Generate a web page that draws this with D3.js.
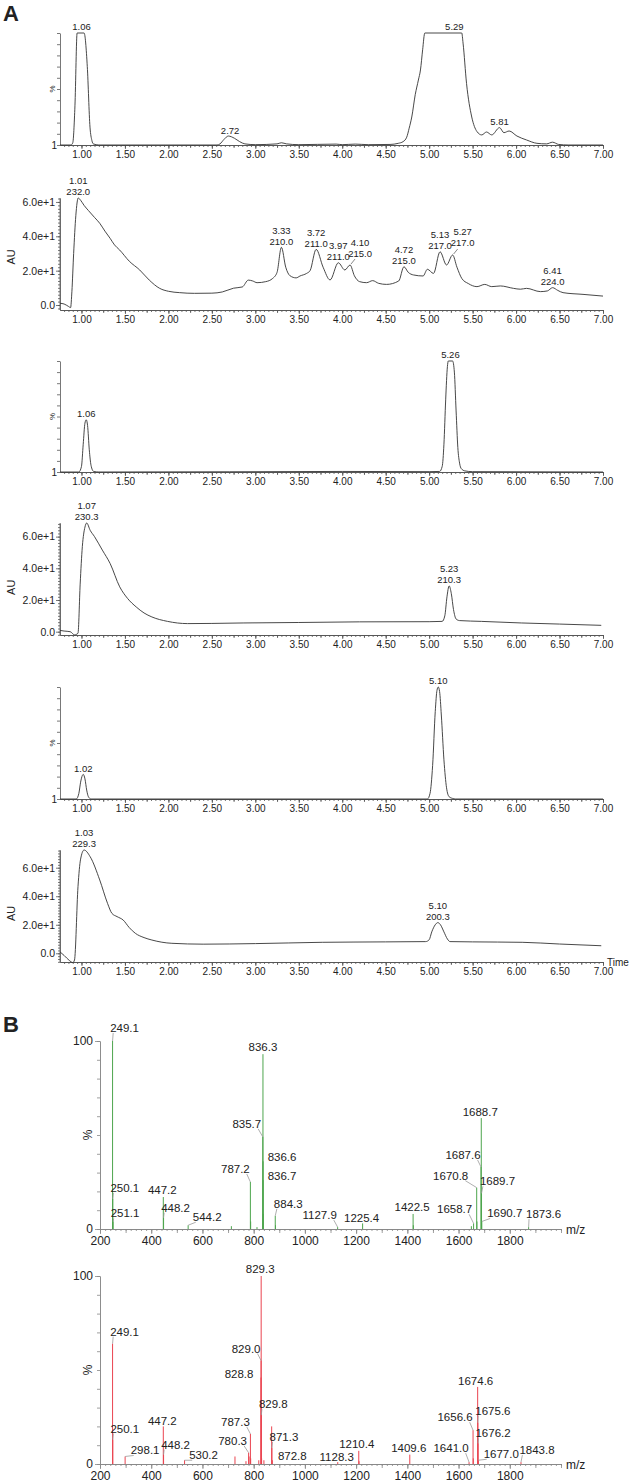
<!DOCTYPE html>
<html>
<head>
<meta charset="utf-8">
<script src="https://cdn.jsdelivr.net/npm/d3@7"></script>
<style>
body { margin: 0; background: #fff; }
svg text { font-family: "Liberation Sans", Arial, sans-serif; fill: #222; }
.narrow { font-family: "Liberation Sans Narrow", "Arial Narrow", "Liberation Sans", sans-serif; }
</style>
</head>
<body>
<div id="chart"></div>
<script>
// ---- panel A : chromatograms, [time (min), response] ----
var tic1 = [[0.753,0],[0.88,0],[0.90,2],[0.925,35],[0.95,100],[1.03,100],[1.067,70],[1.098,16],[1.12,4],[1.136,1],[1.2,0],
  [2.56,0],[2.594,1],[2.64,5],[2.69,8],[2.76,6],[2.82,3],[2.88,1],[3.0,0.3],[3.25,1],[3.30,2],[3.36,1],[3.5,0.3],
  [3.93,0.8],[4.0,0.3],[4.15,0.8],[4.3,0.3],[4.55,0.5],[4.645,1.5],[4.70,3],[4.742,7],[4.77,15],[4.80,25],[4.84,45],
  [4.876,58],[4.90,67],[4.925,85],[4.95,100],[5.375,100],[5.39,91],[5.43,55],[5.49,25],[5.55,12],[5.605,9],[5.66,11.6],
  [5.72,9],[5.81,15.5],[5.86,11],[5.92,12.5],[6.01,8],[6.12,4.5],[6.24,1.5],[6.35,1],[6.42,2.5],[6.49,0.5],[6.6,0],[7.0,0]];
var tic1Labels = [[1.0,"1.06"],[2.71,"2.72"],[5.29,"5.29"],[5.81,"5.81"]];

var uv1 = [[0.753,1],[0.80,0.6],[0.85,-0.8],[0.875,-1.5],[0.89,8],[0.91,30],[0.935,52],[0.963,62.3],[0.99,61],[1.03,58],
  [1.08,55],[1.15,51],[1.21,47.6],[1.27,43],[1.33,38.8],[1.38,35],[1.44,32],[1.55,25.5],[1.67,20.4],[1.78,14.5],[1.90,9.7],
  [2.0,8],[2.13,7.2],[2.3,6.8],[2.5,6.9],[2.62,7.6],[2.75,9.8],[2.85,10.5],[2.92,14.5],[2.97,14],[3.02,13],[3.12,13.6],
  [3.2,15.5],[3.25,19],[3.30,33.6],[3.35,22],[3.40,17],[3.47,15.8],[3.514,16.9],[3.59,18.4],[3.63,20],[3.70,32.4],
  [3.78,22],[3.86,14.6],[3.955,24.6],[4.03,20.4],[4.09,23.3],[4.14,17],[4.20,13.6],[4.28,13],[4.35,14.2],[4.42,12.6],
  [4.51,12],[4.65,14],[4.71,22.3],[4.76,19],[4.82,17.5],[4.93,16.9],[4.98,20.8],[5.05,18.4],[5.125,31],[5.20,23.3],
  [5.27,29.1],[5.32,22],[5.375,15.5],[5.45,12.5],[5.55,10.7],[5.64,12],[5.72,10.7],[5.82,11.1],[5.97,9.7],[6.05,9.2],
  [6.12,9.7],[6.28,7.8],[6.36,8.2],[6.42,10.1],[6.48,8.5],[6.54,7.2],[6.77,6.2],[7.0,5.2]];
var uv1Labels = [[0.963,"1.01","232.0"],[3.30,"3.33","210.0"],[3.70,"3.72","211.0"],[3.955,"3.97","211.0"],
  [4.09,"4.10","215.0"],[4.71,"4.72","215.0"],[5.125,"5.13","217.0"],[5.27,"5.27","217.0"],[6.42,"6.41","224.0"]];

var tic2 = [[0.753,0],[0.97,0],[1.00,5],[1.02,25],[1.04,44],[1.055,47],[1.07,42],[1.09,20],[1.11,6],[1.14,0.5],[1.2,0],
  [2.7,0.2],[4.0,0.5],[5.0,0.3],[5.12,0.5],[5.15,5],[5.17,25],[5.19,65],[5.21,95],[5.22,100],[5.27,100],[5.29,90],
  [5.31,55],[5.33,22],[5.35,8],[5.37,3],[5.41,1],[5.5,0.3],[7.0,0]];
var tic2Labels = [[1.055,"1.06"],[5.245,"5.26"]];

var uv2 = [[0.753,0.8],[0.80,0.4],[0.87,0],[0.92,-2],[0.96,-1],[0.985,30],[1.01,53.7],[1.04,66],[1.06,68.6],[1.10,64],
  [1.15,60],[1.24,51.5],[1.33,43],[1.44,28.3],[1.53,21],[1.63,15.6],[1.72,11.8],[1.81,9.3],[1.99,6.5],[2.22,5.1],
  [2.5,5.2],[2.86,5.5],[3.5,5.8],[4.2,6.2],[5.0,6.3],[5.15,6.5],[5.18,10],[5.205,22],[5.23,28.9],[5.255,24],[5.28,14],
  [5.31,8],[5.35,7],[5.6,6.5],[6.06,5.5],[6.5,4.8],[6.98,4.0]];
var uv2Labels = [[1.06,"1.07","230.3"],[5.23,"5.23","210.3"]];

var tic3 = [[0.753,0],[0.94,0],[0.97,5],[0.99,15],[1.01,21],[1.02,22],[1.04,18],[1.06,8],[1.08,2],[1.11,0],[4.98,0],
  [5.01,5],[5.04,30],[5.07,78],[5.09,97],[5.105,100],[5.12,96],[5.14,75],[5.17,35],[5.20,10],[5.23,2],[5.27,0.5],
  [5.3,0],[7.0,0]];
var tic3Labels = [[1.02,"1.02"],[5.105,"5.10"]];

var uv3 = [[0.753,1],[0.80,-1.5],[0.86,-5],[0.90,-6.5],[0.92,-4.7],[0.96,46.7],[0.99,66],[1.03,72.4],[1.10,67.7],
  [1.21,51.4],[1.30,35],[1.35,28],[1.41,25.7],[1.48,23.3],[1.55,18],[1.62,14],[1.72,11],[1.81,9.3],[2.04,7],[2.4,6.4],
  [3.0,6.8],[3.77,7.7],[4.5,8],[4.96,8.2],[5.0,9.5],[5.03,15],[5.07,20],[5.10,21.5],[5.13,20],[5.17,15],[5.21,10],
  [5.24,8.2],[5.5,8],[6.07,7.7],[6.5,6.5],[6.98,5.3]];
var uv3Labels = [[1.03,"1.03","229.3"],[5.10,"5.10","200.3"]];

var timeTicks = [1.00, 1.50, 2.00, 2.50, 3.00, 3.50, 4.00, 4.50, 5.00, 5.50, 6.00, 6.50, 7.00];
var auTicks = [0, 20, 40, 60];

// ---- panel B : mass spectra, [m/z, relative intensity %] ----
var spec1Peaks = [[249.1,100],[250.1,16],[251.1,4],[447.2,17],[448.2,6],[544.2,2],[713,1.5],[787.2,25],[788.2,4],
  [813,1],[835.7,49],[836.3,93],[836.6,36],[836.7,26],[837.3,8],[884.3,7],[885.3,2],[1127.9,1],[1225.4,3],[1422.5,8],
  [1423.5,2],[1650,1.5],[1658.7,3],[1670.8,22],[1671.8,4],[1687.6,33],[1688.7,59],[1689.7,19],[1690.7,4],[1873.6,1]];
var spec1Labels = ["249.1","250.1","251.1","447.2","448.2","544.2","787.2","835.7","836.3","836.6","836.7","884.3",
  "1127.9","1225.4","1422.5","1658.7","1670.8","1687.6","1688.7","1689.7","1690.7","1873.6"];

var spec2Peaks = [[249.1,64],[250.1,13],[298.1,4],[447.2,20],[448.2,5],[530.2,2],[727,4],[770,1.5],[780.3,6],[782,4],
  [787.3,16],[788.3,3],[820,2],[828.8,46],[829.0,55],[829.3,100],[829.8,26],[831,3],[840,2],[870.3,20],[871.3,8.5],
  [872.8,2],[1128.3,1],[1210.4,7],[1211.4,1.5],[1409.6,5],[1641.0,1],[1656.6,18],[1657.6,3],[1674.6,41],[1675.6,22],
  [1676.2,11],[1677.0,2],[1843.8,1]];
var spec2Labels = ["249.1","250.1","298.1","447.2","448.2","530.2","780.3","787.3","828.8","829.0","829.3","829.8",
  "871.3","872.8","1128.3","1210.4","1409.6","1641.0","1656.6","1674.6","1675.6","1676.2","1677.0","1843.8"];

var mzTicks = [200, 400, 600, 800, 1000, 1200, 1400, 1600, 1800];

// label placement (px offset of label centre from the peak top)
var spec1Offsets = {"249.1":[12,-13],"250.1":[12,-11],"251.1":[12,-8],"447.2":[-1,-7],"448.2":[12,-10],"544.2":[19,-8],
  "787.2":[-15,-13],"835.7":[-16,-13],"836.3":[0,-7],"836.6":[19,-4],"836.7":[19,-4],"884.3":[13,-12],"1127.9":[-18,-12],
  "1225.4":[-1,-5],"1422.5":[-1,-7],"1658.7":[-19,-14],"1670.8":[-26,-12],"1687.6":[-18,-12],"1688.7":[-1,-6],
  "1689.7":[16,-12],"1690.7":[23,-8],"1873.6":[15,-13]};
var spec2Offsets = {"829.3":[-1,-7],"249.1":[12,-12],"829.0":[-15,-12],"828.8":[-22,-4],"829.8":[12,-11],"250.1":[12,-11],
  "447.2":[-1,-5],"448.2":[12,-10],"298.1":[20,-6],"530.2":[19,-5],"787.3":[-15,-12],"780.3":[-16,-12],"871.3":[12,-11],
  "872.8":[20,-4],"1128.3":[-1,-5],"1210.4":[-2,-7],"1409.6":[-1,-7],"1641.0":[-18,-14],"1656.6":[-18,-13],
  "1674.6":[-2,-6],"1675.6":[15,-12],"1676.2":[15,-10],"1677.0":[23,-6],"1843.8":[16,-12]};
var chromShift = {"4.10":[10,-5],"5.27":[10,-6]};

var svg = d3.select("#chart").append("svg")
    .attr("width", 630)
    .attr("height", 1484);

svg.append("text").attr("x", 3).attr("y", 21).attr("font-size", 22).attr("font-weight", "bold").text("A");
svg.append("text").attr("x", 3).attr("y", 1032).attr("font-size", 22).attr("font-weight", "bold").text("B");

var x = d3.scaleLinear().domain([0.753, 7]).range([60, 603]);

var panels = [
  {trace: tic1, labels: tic1Labels, kind: "pct", top: 33, base: 145, lo: 0, hi: 100},
  {trace: uv1, labels: uv1Labels, kind: "au", top: 198, base: 310, lo: -2.9, hi: 62.3},
  {trace: tic2, labels: tic2Labels, kind: "pct", top: 361, base: 472, lo: 0, hi: 100},
  {trace: uv2, labels: uv2Labels, kind: "au", top: 523, base: 635, lo: -2.1, hi: 68.6},
  {trace: tic3, labels: tic3Labels, kind: "pct", top: 687, base: 799, lo: 0, hi: 100},
  {trace: uv3, labels: uv3Labels, kind: "au", top: 850, base: 962, lo: -6.1, hi: 72.4}
];

function interp(tr, t) {
  for (var i = 1; i < tr.length; i++) {
    if (tr[i][0] >= t) {
      var a = tr[i-1], b = tr[i];
      return a[1] + (b[1]-a[1]) * (t - a[0]) / (b[0] - a[0]);
    }
  }
  return tr[tr.length-1][1];
}

function styleAxis(g) {
  g.selectAll("path, line").attr("stroke", "#555").attr("stroke-width", 0.8);
  g.attr("font-family", null).attr("font-size", null);
}

panels.forEach(function(p, i) {
  var y = d3.scaleLinear().domain([p.lo, p.hi]).range([p.base, p.top]);
  var g = svg.append("g");

  // x axis
  var minor = d3.range(16, 141).map(k => k / 20);
  g.append("g").attr("transform", `translate(0,${p.base})`)
    .call(d3.axisBottom(x).tickValues(minor).tickSize(2).tickSizeOuter(0).tickFormat(""))
    .call(styleAxis);
  g.append("g").attr("transform", `translate(0,${p.base})`)
    .call(d3.axisBottom(x).tickValues(d3.range(4, 29).map(k => k / 4)).tickSize(3).tickSizeOuter(0).tickFormat(""))
    .call(styleAxis);
  var xa = g.append("g").attr("transform", `translate(0,${p.base})`)
    .call(d3.axisBottom(x).tickValues(timeTicks).tickSize(4).tickSizeOuter(0).tickPadding(2).tickFormat(d3.format(".2f")))
    .call(styleAxis);
  xa.selectAll("text").attr("class", "narrow").attr("font-size", 10).attr("fill", "#222");

  // y axis
  if (p.kind == "pct") {
    g.append("g").attr("transform", "translate(60,0)")
      .call(d3.axisLeft(y).tickValues(d3.range(0, 101, 10)).tickSize(3).tickSizeOuter(0).tickFormat(""))
      .call(styleAxis);
    g.append("text").attr("class", "narrow").attr("x", 57).attr("y", p.base + 3.5)
      .attr("text-anchor", "end").attr("font-size", 10).text("1");
    g.append("text").attr("font-size", 8)
      .attr("transform", `translate(${55},${(p.top + p.base) / 2}) rotate(-90)`)
      .attr("text-anchor", "middle").text("%");
  } else {
    var yMinor = d3.range(Math.ceil(p.lo / 2) * 2, p.hi, 2);
    g.append("g").attr("transform", "translate(60,0)")
      .call(d3.axisLeft(y).tickValues(yMinor).tickSize(2).tickSizeOuter(0).tickFormat(""))
      .call(styleAxis);
    var ya = g.append("g").attr("transform", "translate(60,0)")
      .call(d3.axisLeft(y).tickValues(auTicks).tickSize(4).tickSizeOuter(0).tickPadding(1)
        .tickFormat(d => d == 0 ? "0.0" : (d / 10).toFixed(1) + "e+1"))
      .call(styleAxis);
    ya.select(".domain").attr("d", `M0,${p.base}V${p.top}`);
    ya.selectAll("text").attr("class", "narrow").attr("font-size", 10.5).attr("fill", "#222");
    g.append("text").attr("font-size", 11)
      .attr("transform", `translate(${15},${y(28)}) rotate(-90)`)
      .attr("text-anchor", "middle").text("AU");
  }

  // trace
  g.append("path").datum(p.trace)
    .attr("fill", "none").attr("stroke", "#333").attr("stroke-width", 0.9)
    .attr("d", d3.line().x(d => x(d[0])).y(d => y(d[1])).curve(d3.curveMonotoneX));

  // peak labels
  p.labels.forEach(function(l) {
    var apex = y(interp(p.trace, l[0]));
    var sh = chromShift[l[1]] || [0, 0];
    var lx = x(l[0]) + sh[0];
    var lines = l.slice(1);
    lines.forEach(function(s, k) {
      var cy = apex - 6 + sh[1] - (lines.length - 1 - k) * 11;
      g.append("text").attr("class", "narrow").attr("font-size", 9.5)
        .attr("x", lx).attr("y", cy + 3.3).attr("text-anchor", "middle").text(s);
    });
    if (sh[0]) {
      g.append("line").attr("x1", x(l[0]) + 1).attr("y1", apex - 1)
        .attr("x2", lx - 5).attr("y2", apex - 6)
        .attr("stroke", "#555").attr("stroke-width", 0.7);
    }
  });

  if (i == panels.length - 1) {
    g.append("text").attr("class", "narrow").attr("x", 607).attr("y", p.base + 3.5).attr("font-size", 10).text("Time");
  }
});

// ---- spectra ----
var mz = d3.scaleLinear().domain([200, 2000]).range([100, 561]);
var spectra = [
  {peaks: spec1Peaks, labels: spec1Labels, offsets: spec1Offsets, color: "#4da54d", top: 1041, base: 1229},
  {peaks: spec2Peaks, labels: spec2Labels, offsets: spec2Offsets, color: "#ea4450", top: 1276, base: 1464}
];

spectra.forEach(function(s) {
  var y = d3.scaleLinear().domain([0, 100]).range([s.base, s.top]);
  var g = svg.append("g");

  g.append("g").attr("transform", `translate(0,${s.base})`)
    .call(d3.axisBottom(mz).tickValues(d3.range(200, 2001, 20)).tickSize(2).tickSizeOuter(0).tickFormat(""))
    .call(styleAxis);
  g.append("g").attr("transform", `translate(0,${s.base})`)
    .call(d3.axisBottom(mz).tickValues(d3.range(200, 2001, 100)).tickSize(4).tickSizeOuter(0).tickFormat(""))
    .call(styleAxis);
  var xa = g.append("g").attr("transform", `translate(0,${s.base})`)
    .call(d3.axisBottom(mz).tickValues(mzTicks).tickSize(5).tickSizeOuter(0).tickPadding(2).tickFormat(d3.format("d")))
    .call(styleAxis);
  xa.selectAll("text").attr("font-size", 12).attr("fill", "#222");
  g.selectAll(".domain").attr("stroke", "#888");
  g.selectAll(".tick line").attr("stroke", "#888");

  var ya = g.append("g").attr("transform", "translate(100,0)")
    .call(d3.axisLeft(y).tickValues(d3.range(0, 101, 10)).tickSize(3).tickSizeOuter(0).tickFormat(""))
    .call(styleAxis);
  ya.selectAll("path, line").attr("stroke", "#888");
  var yl = g.append("g").attr("transform", "translate(100,0)")
    .call(d3.axisLeft(y).tickValues([0, 100]).tickSize(5).tickSizeOuter(0).tickPadding(2))
    .call(styleAxis);
  yl.selectAll("path, line").attr("stroke", "#888");
  yl.selectAll("text").attr("font-size", 12).attr("fill", "#222");

  g.append("text").attr("x", 566).attr("y", s.base + 5).attr("font-size", 12).text("m/z");
  g.append("text").attr("font-size", 12)
    .attr("transform", `translate(${92},${y(50)}) rotate(-90)`)
    .attr("text-anchor", "middle").text("%");

  g.selectAll(".peak").data(s.peaks).enter().append("line")
    .attr("class", "peak")
    .attr("x1", d => mz(d[0])).attr("x2", d => mz(d[0]))
    .attr("y1", y(0)).attr("y2", d => y(d[1]))
    .attr("stroke", s.color).attr("stroke-width", 1);

  s.labels.forEach(function(name) {
    var pk = s.peaks.find(d => d[0] == +name);
    var px = mz(pk[0]), py = y(pk[1]);
    var off = s.offsets[name];
    var t = g.append("text").attr("font-size", 11.5).attr("fill", "#333")
      .attr("x", px + off[0]).attr("y", py + off[1] + 4)
      .attr("text-anchor", "middle").text(name);
    var bb = t.node().getBBox();
    var ex = Math.max(bb.x + 3, Math.min(bb.x + bb.width - 3, px));
    var ey = bb.y + bb.height - 1;
    if (Math.hypot(ex - px, ey - py) > 3 && ey < py) {
      g.append("line").attr("x1", px).attr("y1", py).attr("x2", ex).attr("y2", ey)
        .attr("stroke", "#999").attr("stroke-width", 0.8);
    }
  });
});
</script>
</body>
</html>
